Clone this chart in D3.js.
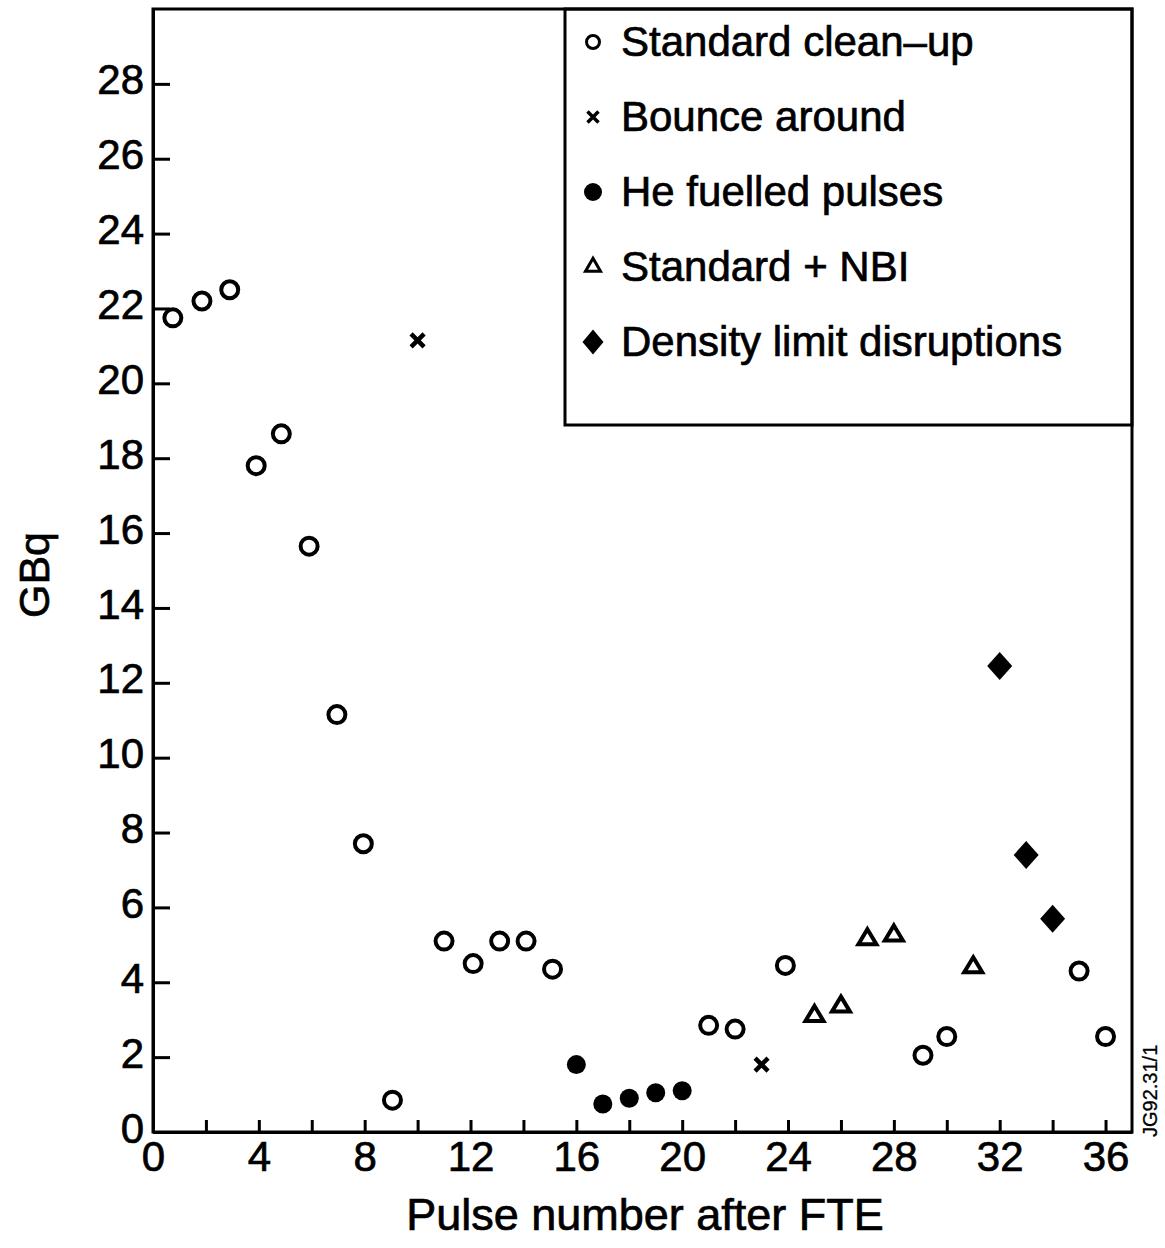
<!DOCTYPE html>
<html>
<head>
<meta charset="utf-8">
<script src="https://cdn.jsdelivr.net/npm/d3@7"></script>
<style>
  body { margin: 0; background: #fff; }
  svg text { font-family: "Liberation Sans", Arial, Helvetica, sans-serif; fill: #000; stroke: #000; stroke-width: 0.7px; }
</style>
</head>
<body>
<svg id="chart" width="1165" height="1248"></svg>
<script>
// data
const cleanPulse = [0.75, 1.85, 2.9, 3.9, 4.85, 5.9, 6.95, 7.95, 9.05, 11, 12.1, 13.1, 14.1, 15.1, 21, 22, 23.9, 29.1, 30, 35, 36];
const cleanGBq   = [21.75, 22.2, 22.5, 17.8, 18.65, 15.65, 11.15, 7.7, 0.85, 5.1, 4.5, 5.1, 5.1, 4.35, 2.85, 2.75, 4.45, 2.05, 2.55, 4.3, 2.55];

const bouncePulse = [10, 23];
const bounceGBq   = [21.15, 1.8];

const hePulse = [16, 17, 18, 19, 20];
const heGBq   = [1.8, 0.75, 0.9, 1.05, 1.1];

const nbiPulse = [25, 26, 27, 28, 31];
const nbiGBq   = [3.1, 3.35, 5.15, 5.25, 4.4];

const densPulse = [32, 33, 34];
const densGBq   = [12.45, 7.4, 5.7];

const xTicks = d3.range(0, 37, 2);
const xLabels = d3.range(0, 37, 4);
const yTicks = d3.range(0, 29, 2);

const legendLabels = ["Standard clean\u2013up", "Bounce around", "He fuelled pulses", "Standard + NBI", "Density limit disruptions"];
const legendKinds = ["open", "cross", "dot", "tri", "diamond"];

const svg = d3.select("#chart");

const x = d3.scaleLinear().domain([0, 37]).range([153, 1132]);
const y = d3.scaleLinear().domain([0, 30]).range([1132, 9]);

// frame
svg.append("rect")
  .attr("x", x(0)).attr("y", y(30))
  .attr("width", x(37) - x(0)).attr("height", y(0) - y(30))
  .attr("fill", "none").attr("stroke", "#000").attr("stroke-width", 3);

// legend box
svg.append("rect")
  .attr("x", 565).attr("y", y(30))
  .attr("width", x(37) - 565).attr("height", 425 - y(30))
  .attr("fill", "none").attr("stroke", "#000").attr("stroke-width", 3);

// axes
const xAxis = svg.append("g")
  .attr("transform", "translate(0," + y(0) + ")")
  .call(d3.axisBottom(x)
    .tickValues(xTicks)
    .tickSize(-12)
    .tickSizeOuter(0)
    .tickPadding(9)
    .tickFormat(d => xLabels.includes(d) ? d : ""));
xAxis.select(".domain").attr("stroke-width", 3);
xAxis.selectAll(".tick line").attr("stroke-width", 3);
xAxis.selectAll("text").style("font-size", "42px");

const yAxis = svg.append("g")
  .attr("transform", "translate(" + x(0) + ",0)")
  .call(d3.axisLeft(y)
    .tickValues(yTicks)
    .tickSize(-17)
    .tickSizeOuter(0)
    .tickPadding(9));
yAxis.select(".domain").attr("stroke-width", 3);
yAxis.selectAll(".tick line").attr("stroke-width", 3);
yAxis.selectAll("text").style("font-size", "42px").attr("dy", "0.24em");

// axis titles
svg.append("text")
  .attr("x", 645).attr("y", 1230)
  .attr("text-anchor", "middle")
  .style("font-size", "45px")
  .text("Pulse number after FTE");

svg.append("text")
  .attr("transform", "translate(49,575) rotate(-90)")
  .attr("text-anchor", "middle")
  .style("font-size", "43px")
  .text("GBq");

svg.append("text")
  .attr("transform", "translate(1157,1137) rotate(-90)")
  .attr("text-anchor", "start")
  .style("font-size", "20px")
  .style("stroke-width", "0.3px")
  .text("JG92.31/1");

// marker drawing
function marker(g, kind, big) {
  if (kind === "open") {
    g.append("circle").attr("r", big ? 8.5 : 6.5)
      .attr("fill", "none").attr("stroke", "#000").attr("stroke-width", big ? 4 : 3);
  } else if (kind === "dot") {
    g.append("circle").attr("r", big ? 9.5 : 9).attr("fill", "#000");
  } else if (kind === "cross") {
    const a = big ? 6.5 : 5.5;
    g.append("path").attr("d", `M${-a},${-a}L${a},${a}M${-a},${a}L${a},${-a}`)
      .attr("stroke", "#000").attr("stroke-width", big ? 4.5 : 3.5).attr("fill", "none");
  } else if (kind === "tri") {
    const w = (big ? 18 : 15) / 2, h = big ? 15 : 13;
    g.append("path").attr("d", `M0,${-h * 2 / 3}L${w},${h / 3}L${-w},${h / 3}Z`)
      .attr("fill", "none").attr("stroke", "#000").attr("stroke-width", big ? 4 : 3)
      .attr("stroke-linejoin", "miter");
  } else if (kind === "diamond") {
    const w = big ? 12.5 : 10.5, h = big ? 14 : 12.5;
    g.append("path").attr("d", `M0,${-h}L${w},0L0,${h}L${-w},0Z`).attr("fill", "#000");
  }
}

function series(px, vals, kind) {
  const pts = px.map((p, i) => ({ p: p, v: vals[i] }));
  svg.append("g").selectAll("g")
    .data(pts)
    .join("g")
    .attr("transform", d => "translate(" + x(d.p) + "," + y(d.v) + ")")
    .each(function () { marker(d3.select(this), kind, true); });
}

series(cleanPulse, cleanGBq, "open");
series(bouncePulse, bounceGBq, "cross");
series(hePulse, heGBq, "dot");
series(nbiPulse, nbiGBq, "tri");
series(densPulse, densGBq, "diamond");

// legend entries
const leg = svg.append("g").selectAll("g")
  .data(legendLabels)
  .join("g")
  .attr("transform", (d, i) => "translate(593," + (42 + i * 75) + ")");
leg.each(function (d, i) { marker(d3.select(this), legendKinds[i], false); });
leg.append("text")
  .attr("x", 28).attr("y", 14)
  .style("font-size", "42px")
  .text(d => d);
</script>
</body>
</html>
